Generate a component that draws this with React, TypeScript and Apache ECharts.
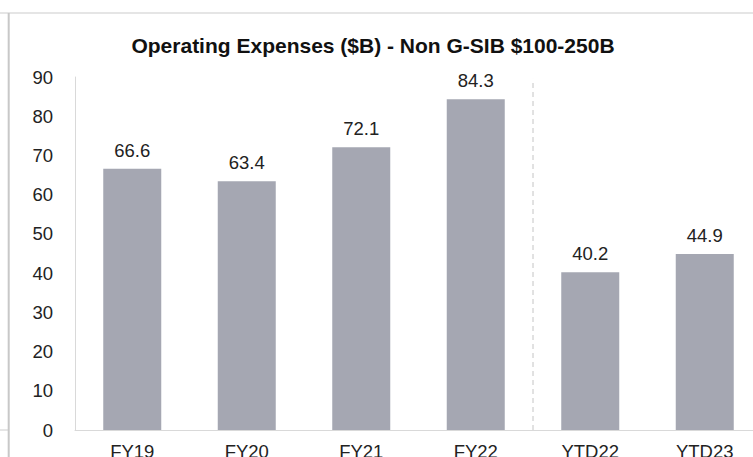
import React, { useEffect, useRef } from "react";
import * as echarts from "echarts";

const categories = ["FY19", "FY20", "FY21", "FY22", "YTD22", "YTD23"];
const values = [66.6, 63.4, 72.1, 84.3, 40.2, 44.9];
const yTicks = [0, 10, 20, 30, 40, 50, 60, 70, 80, 90];
const dividerAt = 4; // boundary between FY22 and YTD22 (category index units)
const dividerTop = 89.5;

const FONT = "'Liberation Sans', Arial, sans-serif";

export default function App() {
  const ref = useRef<HTMLDivElement>(null);
  useEffect(() => {
    const chart = echarts.init(ref.current!, undefined, { renderer: "svg" });
    chart.setOption({
      animation: false,
      backgroundColor: "#ffffff",
      title: {
        text: "Operating Expenses ($B) - Non G-SIB $100-250B",
        left: 368,
        textAlign: "center",
        top: 30,
        textStyle: { fontFamily: FONT, fontSize: 21, fontWeight: "bold", color: "#111" },
      },
      grid: { left: 75, right: -9, top: 77, bottom: 27, containLabel: false, outerBoundsMode: "none" },
      xAxis: [
        {
          type: "category",
          data: categories,
          axisLine: { lineStyle: { color: "#d9d9d9", width: 1 } },
          axisTick: { show: false },
          axisLabel: { fontFamily: FONT, fontSize: 18.5, color: "#222", margin: 12, interval: 0 },
        },
        {
          type: "value",
          min: 0,
          max: 6,
          show: false,
        },
      ],
      yAxis: {
        type: "value",
        min: yTicks[0],
        max: yTicks[yTicks.length - 1],
        interval: 10,
        splitLine: { show: false },
        axisLine: { show: true, lineStyle: { color: "#d9d9d9", width: 1 } },
        axisTick: { show: false },
        axisLabel: { fontFamily: FONT, fontSize: 18.5, color: "#222", margin: 22 },
      },
      series: [
        {
          type: "bar",
          data: values,
          barWidth: 58,
          itemStyle: { color: "#A5A7B2" },
          label: {
            show: true,
            position: "top",
            distance: 9,
            fontFamily: FONT,
            fontSize: 18.5,
            color: "#222",
            formatter: (p: any) => p.value.toFixed(1),
          },
        },
        {
          type: "line",
          xAxisIndex: 1,
          data: [
            [dividerAt, 0],
            [dividerAt, dividerTop],
          ],
          symbol: "none",
          lineStyle: { color: "#c4c4c4", width: 1, type: [5, 4] },
          silent: true,
        },
      ],
      graphic: [
        { type: "line", shape: { x1: 0, y1: 13, x2: 753, y2: 13 }, style: { stroke: "#cccccc", lineWidth: 1.2 } },
        { type: "line", shape: { x1: 8.7, y1: 13, x2: 8.7, y2: 457 }, style: { stroke: "#c8c8c8", lineWidth: 2 } },
        { type: "line", shape: { x1: 0, y1: 430, x2: 8, y2: 430 }, style: { stroke: "#cccccc", lineWidth: 1 } },
      ],
    });
    return () => chart.dispose();
  }, []);
  return (
    <div
      ref={ref}
      style={{ position: "fixed", left: 0, top: 0, width: 753, height: 457, overflow: "hidden" }}
    />
  );
}
